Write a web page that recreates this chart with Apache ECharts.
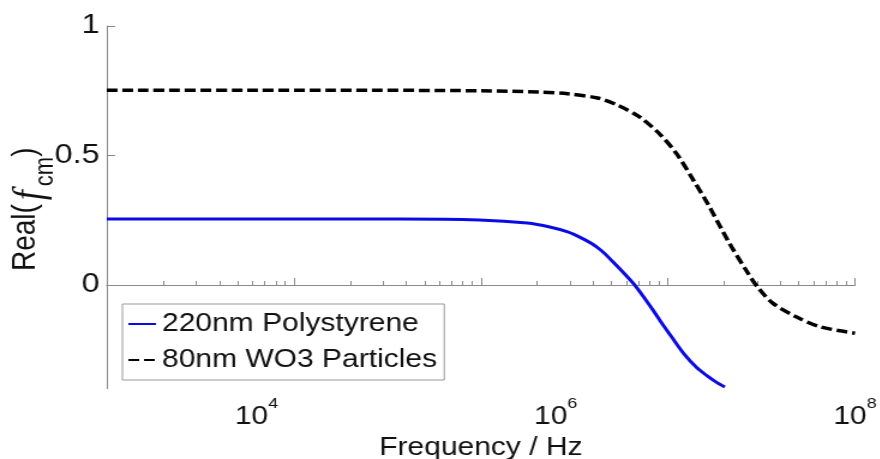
<!DOCTYPE html>
<html>
<head>
<meta charset="utf-8">
<script src="https://cdn.jsdelivr.net/npm/echarts@6/dist/echarts.min.js"></script>
<style>
  html, body { margin: 0; padding: 0; background: #fff; overflow: hidden; }
  /* the source figure is stretched sideways, so draw narrow and widen */
  #main { width: 733px; height: 459px; transform: scaleX(1.2); transform-origin: 0 0; }
</style>
</head>
<body>
<div id="main"></div>
<script>
// frequency given as log10(Hz)
const polyLogHz = [3.0, 4.0, 4.96, 5.49, 5.81, 5.96, 6.08, 6.16, 6.24, 6.30, 6.36, 6.52, 6.65, 6.70, 6.78, 6.86, 6.94, 7.01, 7.07, 7.13]
const polyReal = [0.255, 0.255, 0.255, 0.251, 0.239, 0.224, 0.205, 0.185, 0.160, 0.135, 0.103, 0.005, -0.097, -0.140, -0.205, -0.268, -0.318, -0.350, -0.374, -0.394]

const wo3LogHz = [3.0, 4.0, 4.5, 5.5, 5.9, 6.08, 6.28, 6.41, 6.56, 6.70, 6.81, 6.92, 7.02, 7.05, 7.16, 7.28, 7.345, 7.45, 7.61, 7.77, 8.0]
const wo3Real = [0.752, 0.752, 0.752, 0.750, 0.745, 0.738, 0.722, 0.695, 0.649, 0.580, 0.505, 0.405, 0.310, 0.278, 0.162, 0.050, -0.005, -0.070, -0.124, -0.162, -0.186]

const seriesNames = ['220nm Polystyrene', '80nm WO3 Particles']
const xLabelExps = [4, 6, 8]
const yLabelValues = [0, 0.5, 1]
// the ruler drawn on the zero line has its own decades
const rulerMajor = [5, 6, 7, 8]
const rulerDecades = [4, 5, 6, 7]

const rulerMinor = []
rulerDecades.forEach(n => {
  for (let k = 2; k <= 9; k++) rulerMinor.push(n + Math.log10(k))
})

const font = "'Liberation Sans', Arial, sans-serif"
const gray = '#8a8a8a'

const chart = echarts.init(document.getElementById('main'))

function rulerAxis (values, len, yIndex) {
  return {
    type: 'value',
    min: 4,
    max: 8,
    position: 'bottom',
    axisLine: { show: true, onZero: true, onZeroAxisIndex: yIndex, lineStyle: { color: gray, width: 1 } },
    axisTick: { show: true, inside: true, length: len, customValues: values, lineStyle: { color: gray, width: 1 } },
    axisLabel: { show: false },
    splitLine: { show: false }
  }
}

const yRange = { type: 'value', min: -0.4, max: 1 }

chart.setOption({
  animation: false,
  textStyle: { fontFamily: font },
  grid: { left: 89, right: 20.5, top: 26, bottom: 70.4, containLabel: false, outerBoundsMode: 'none' },
  legend: {
    left: 102,
    top: 304,
    orient: 'vertical',
    padding: [3, 6, 3, 4],
    itemGap: 2,
    itemWidth: 23,
    itemHeight: 14,
    itemStyle: { opacity: 0 },
    backgroundColor: '#fff',
    borderColor: '#999',
    borderWidth: 1,
    borderRadius: 0,
    textStyle: { fontFamily: font, fontSize: 25, lineHeight: 34, color: '#111' },
    data: seriesNames
  },
  xAxis: [
    {
      type: 'value',
      min: 3,
      max: 8,
      position: 'bottom',
      name: 'Frequency / Hz',
      nameLocation: 'middle',
      nameGap: 47,
      nameMoveOverlap: false,
      nameTextStyle: { fontFamily: font, fontSize: 25, color: '#111' },
      axisLine: { show: false, onZero: false },
      axisTick: { show: false },
      splitLine: { show: false },
      axisLabel: {
        margin: 8,
        customValues: xLabelExps,
        formatter: v => '{b|10}{s|' + v + '}',
        rich: {
          b: { fontFamily: font, fontSize: 25, verticalAlign: 'bottom', color: '#111' },
          s: { fontFamily: font, fontSize: 15, verticalAlign: 'top', padding: [0, 0, 18.5, 0], color: '#111' }
        }
      }
    },
    rulerAxis(rulerMinor, 4, 0),
    rulerAxis(rulerMajor, 7, 1)
  ],
  yAxis: [
    Object.assign({}, yRange, {
      name: '{n|Real(}{f|f}{s|cm}{n|)}',
      nameLocation: 'middle',
      nameRotate: 90,
      nameGap: 40,
      nameMoveOverlap: false,
      nameTextStyle: {
        padding: [0, 4, 0, 0],
        rich: {
          n: { fontFamily: font, fontSize: 28, verticalAlign: 'top', color: '#111' },
          f: { fontFamily: "'Liberation Serif', serif", fontStyle: 'italic', fontSize: 36, verticalAlign: 'top', padding: [0, 4, 0, 4], color: '#111' },
          s: { fontFamily: font, fontSize: 22, verticalAlign: 'top', padding: [19.5, 0, 0, 0], color: '#111' }
        }
      },
      axisLine: { show: true, onZero: false, lineStyle: { color: gray, width: 1 } },
      axisTick: { show: true, inside: true, length: 7, customValues: yLabelValues, lineStyle: { color: gray } },
      splitLine: { show: false },
      axisLabel: {
        margin: 6,
        customValues: yLabelValues,
        fontFamily: font,
        fontSize: 27,
        color: '#111',
        formatter: v => String(v)
      }
    }),
    // twin of the value axis, only so the second ruler can sit on zero too
    Object.assign({}, yRange, {
      show: true,
      axisLine: { show: false, onZero: false },
      axisTick: { show: false },
      axisLabel: { show: false },
      splitLine: { show: false }
    })
  ],
  series: [
    {
      name: seriesNames[0],
      type: 'line',
      xAxisIndex: 0,
      yAxisIndex: 0,
      smooth: 0.3,
      symbol: 'none',
      lineStyle: { color: '#0a0ae6', width: 3 },
      itemStyle: { color: '#0a0ae6' },
      data: polyLogHz.map((x, i) => [x, polyReal[i]])
    },
    {
      name: seriesNames[1],
      type: 'line',
      xAxisIndex: 0,
      yAxisIndex: 0,
      smooth: 0.3,
      symbol: 'none',
      lineStyle: { color: '#000', width: 3.5, type: [9, 4] },
      itemStyle: { color: '#000' },
      data: wo3LogHz.map((x, i) => [x, wo3Real[i]])
    }
  ]
})
</script>
</body>
</html>
